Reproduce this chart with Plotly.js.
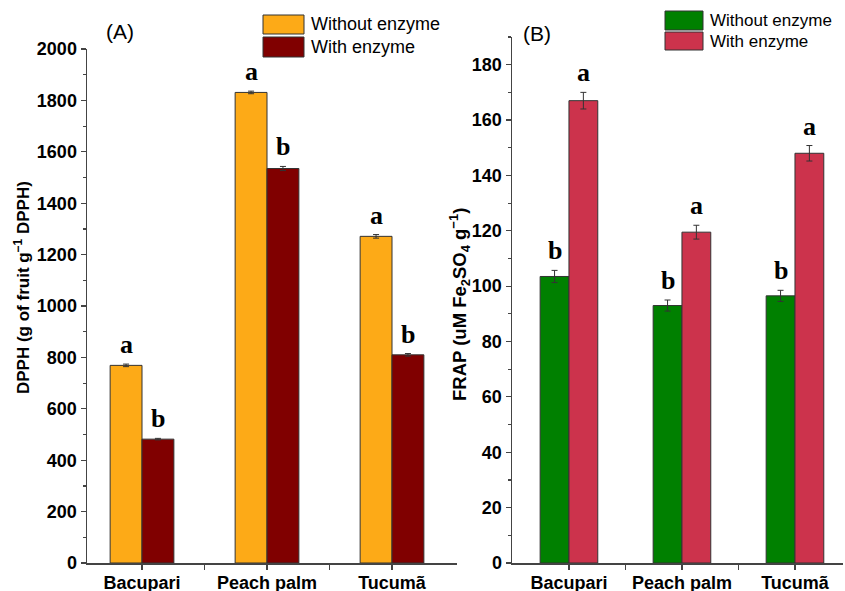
<!DOCTYPE html>
<html><head><meta charset="utf-8">
<script src="https://cdn.plot.ly/plotly-3.0.1.min.js"></script>
<style>html,body{margin:0;padding:0;background:#fff}#chart{width:845px;height:591px}</style>
</head><body><div id="chart"></div>
<script>
const categories = ["Bacupari", "Peach palm", "Tucumã"];
const dpphWithout = [769, 1831, 1271];
const dpphWithoutErr = [5, 5, 7];
const dpphWith = [482, 1535, 810];
const dpphWithErr = [3, 8, 5];
const dpphLetWithout = ["a", "a", "a"];
const dpphLetWith = ["b", "b", "b"];
const frapWithout = [103.5, 93, 96.5];
const frapWithoutErr = [2.2, 2.0, 2.0];
const frapWith = [167, 119.5, 148];
const frapWithErr = [3.0, 2.5, 2.8];
const frapLetWithout = ["b", "b", "b"];
const frapLetWith = ["a", "a", "a"];
const seriesNames = ["Without enzyme", "With enzyme"];

const idx = categories.map((c, i) => i);
const FONT = "Arial, 'Liberation Sans', sans-serif";
const SERIF = "'Times New Roman', 'Liberation Serif', serif";
const lineCol = "#444";
const W = 845, H = 591;

function bar(x, y, err, color, xa, ya, name) {
  return {type: "bar", x: x, y: y, name: name, xaxis: xa, yaxis: ya, showlegend: false,
    marker: {color: color, line: {color: "#333", width: 1}},
    error_y: {type: "data", array: err, visible: true, color: "#333", thickness: 1, width: 3}};
}

const traces = [
  bar(idx, dpphWithout, dpphWithoutErr, "#FDAA17", "x", "y", seriesNames[0]),
  bar(idx, dpphWith, dpphWithErr, "#800000", "x", "y", seriesNames[1]),
  bar(idx, frapWithout, frapWithoutErr, "#008000", "x2", "y2", seriesNames[0]),
  bar(idx, frapWith, frapWithErr, "#CC334C", "x2", "y2", seriesNames[1])
];

const annotations = [];
function letters(vals, errs, lets, off, xr, yr) {
  vals.forEach((v, i) => {
    annotations.push({x: idx[i] + off, y: v + errs[i], xref: xr, yref: yr, text: "<b>" + lets[i] + "</b>",
      showarrow: false, xanchor: "center", yanchor: "bottom", yshift: 3, font: {family: SERIF, size: 26, color: "#000"}});
  });
}
letters(dpphWithout, dpphWithoutErr, dpphLetWithout, -0.128, "x", "y");
letters(dpphWith, dpphWithErr, dpphLetWith, 0.128, "x", "y");
letters(frapWithout, frapWithoutErr, frapLetWithout, -0.126, "x2", "y2");
letters(frapWith, frapWithErr, frapLetWith, 0.126, "x2", "y2");

function px(x) { return x / W; }
function py(y) { return 1 - y / H; }

function paperText(x, y, text, size, extra) {
  annotations.push(Object.assign({x: px(x), y: py(y), xref: "paper", yref: "paper", text: text, showarrow: false,
    xanchor: "center", yanchor: "middle", font: {family: FONT, size: size, color: "#000"}}, extra || {}));
}
paperText(120, 32, "(A)", 21);
paperText(537, 33, "(B)", 21);
paperText(22, 288, "<b>DPPH (g of fruit g<sup>−1</sup> DPPH)</b>", 17, {textangle: -90});
paperText(459, 305, "<b>FRAP (uM Fe<sub>2</sub>SO<sub>4</sub> g<sup>−1</sup>)</b>", 18.5, {textangle: -90});

// legends
const shapes = [];
function legendItem(x0, x1, y0, y1, color, text, fs) {
  shapes.push({type: "rect", xref: "paper", yref: "paper", x0: px(x0), x1: px(x1), y0: py(y1), y1: py(y0),
    fillcolor: color, line: {color: "#333", width: 1}});
  paperText(x1 + 5, (y0 + y1) / 2, text, fs, {xanchor: "left"});
}
legendItem(263, 304, 15, 34, "#FDAA17", seriesNames[0], 18);
legendItem(263, 304, 37, 57, "#800000", seriesNames[1], 18);
legendItem(665, 703, 11, 30, "#008000", seriesNames[0], 17);
legendItem(665, 703, 32, 50, "#CC334C", seriesNames[1], 17);

const tickFont = {family: FONT, size: 18, color: "#000", weight: "bold"};
function xaxis(domain, range) {
  return {domain: domain, range: range, tickmode: "array", tickvals: idx, ticktext: categories.map(c => "<b>" + c + "</b>"),
    ticks: "outside", ticklen: 5, tickwidth: 1.2, tickcolor: lineCol, showline: true, linecolor: lineCol, linewidth: 1.5,
    showgrid: false, zeroline: false, tickfont: tickFont, fixedrange: true, ticklabelstandoff: -2,
    minor: {tickmode: "array", tickvals: [0.5, 1.5], ticks: "outside", ticklen: 5, tickcolor: lineCol, tickwidth: 1.2, showgrid: false}};
}
function yaxis(domain, range, dtick, anchor) {
  return {domain: domain, range: range, dtick: dtick, anchor: anchor, ticks: "outside", ticklen: 5, tickwidth: 1.2,
    tickcolor: lineCol, showline: true, linecolor: lineCol, linewidth: 1.5, showgrid: false, zeroline: false,
    tickfont: tickFont, fixedrange: true,
    minor: {dtick: dtick / 2, ticks: "outside", ticklen: 3, tickcolor: lineCol, tickwidth: 1.2, showgrid: false}};
}

const layout = {
  width: W, height: H, margin: {l: 0, r: 0, t: 0, b: 0}, paper_bgcolor: "#fff", plot_bgcolor: "rgba(0,0,0,0)",
  barmode: "group", bargap: 0.49, bargroupgap: 0, showlegend: false,
  xaxis: Object.assign(xaxis([px(87), px(457)], [-0.44, 2.52]), {anchor: "y"}),
  yaxis: yaxis([py(563), py(49)], [0, 2000], 200, "x"),
  xaxis2: Object.assign(xaxis([px(512), px(843)], [-0.504, 2.425]), {anchor: "y2"}),
  yaxis2: yaxis([py(563), py(37)], [0, 190], 20, "x2"),
  annotations: annotations, shapes: shapes
};
Plotly.newPlot("chart", traces, layout, {staticPlot: true, displayModeBar: false});
</script></body></html>
